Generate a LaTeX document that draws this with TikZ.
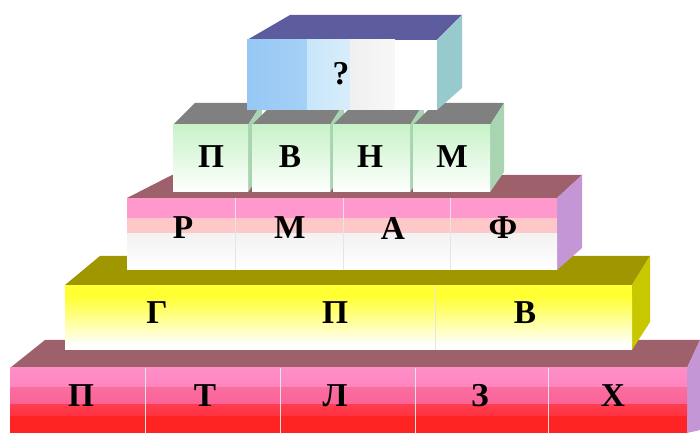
\documentclass[tikz,border=0pt]{standalone}
\usepackage{fontspec}
\setmainfont{Liberation Serif}

\definecolor{mauve}{RGB}{158,96,106}
\definecolor{lilac}{RGB}{196,150,214}
\definecolor{pinkA}{RGB}{255,142,200}
\definecolor{pinkB}{RGB}{250,100,150}
\definecolor{redA}{RGB}{255,60,80}
\definecolor{redB}{RGB}{255,36,36}
\definecolor{olive}{RGB}{160,150,0}
\definecolor{oliveside}{RGB}{200,200,0}
\definecolor{yellowA}{RGB}{255,255,50}
\definecolor{pinkC}{RGB}{255,152,204}
\definecolor{pinkD}{RGB}{255,200,200}
\definecolor{greyA}{RGB}{128,128,128}
\definecolor{greenA}{RGB}{200,242,200}
\definecolor{greenside}{RGB}{168,212,178}
\definecolor{slate}{RGB}{92,92,158}
\definecolor{teal}{RGB}{150,202,204}
\definecolor{blueA}{RGB}{150,200,245}
\definecolor{blueB}{RGB}{200,230,250}

\begin{document}
\begin{tikzpicture}[x=0.02cm,y=-0.02cm,
  letter/.style={font=\fontsize{19}{19}\selectfont\bfseries, inner sep=0pt},
  divider/.style={draw=black!10, line width=0.4pt}]
\useasboundingbox (0,0) rectangle (700,435);

% bottom tier
\fill[mauve] (10,368) -- (45,340) -- (700,340) -- (687,368) -- cycle;
\fill[lilac] (687,368) -- (700,340) -- (700,430) -- (687,433) -- cycle;
\shade[top color=pinkA, bottom color=pinkA!80!pinkB] (10,368) rectangle (687,388);
\shade[top color=pinkB!80!pinkA, bottom color=pinkB] (10,388) rectangle (687,405);
\shade[top color=redA, bottom color=redA!60!redB] (10,405) rectangle (687,416);
\fill[redB] (10,416) rectangle (687,433);
\foreach \x in {145,280,415,548}
  \draw[divider] (\x,368) -- (\x,433);

% yellow tier
\fill[olive] (65,285) -- (100,256) -- (650,256) -- (632,285) -- cycle;
\fill[oliveside] (632,285) -- (650,256) -- (650,322) -- (632,350) -- cycle;
\fill[yellowA] (65,285) rectangle (632,296);
\shade[top color=yellowA, bottom color=white] (65,296) rectangle (632,345);
\fill[white] (65,345) rectangle (632,350);
\foreach \x in {435}
  \draw[divider] (\x,285) -- (\x,350);

% pink tier
\fill[mauve] (127,198) -- (172,175) -- (582,175) -- (557,198) -- cycle;
\fill[lilac] (557,198) -- (582,175) -- (582,248) -- (557,270) -- cycle;
\fill[pinkC] (127,198) rectangle (557,218);
\fill[pinkD] (127,218) rectangle (557,234);
\shade[top color=black!5, bottom color=white] (127,234) rectangle (557,270);
\foreach \x in {235,343,450}
  \draw[divider] (\x,198) -- (\x,270);

% green cubes
\foreach \a/\b in {173/248,252/330,333/410,413/490} {
  \fill[greyA] (\a,125) -- (\a+22,103) -- (\b+14,103) -- (\b,125) -- cycle;
  \fill[greenside] (\b,125) -- (\b+14,103) -- (\b+14,172) -- (\b,192) -- cycle;
  \shade[top color=greenA, bottom color=white] (\a,125) rectangle (\b,192);
}

% top box
\fill[slate] (247,40) -- (290,15) -- (462,15) -- (437,40) -- cycle;
\fill[teal] (437,40) -- (462,15) -- (462,88) -- (437,110) -- cycle;
\shade[left color=blueA, right color=blueA!85!white] (247,40) rectangle (307,110);
\shade[left color=blueB, right color=blueB!70!white] (307,40) rectangle (350,110);
\shade[left color=black!6, right color=black!3] (350,40) rectangle (395,110);
\fill[white] (395,40) rectangle (437,110);

% letters
\node[letter] (top) at (341,74) {?};
\foreach \x/\t [count=\i] in {211/П,290/В,370/Н,452/М}
  \node[letter] (g\i) at (\x,157) {\t};
\foreach \x/\t [count=\i] in {183/Р,290/М,393/А,503/Ф}
  \node[letter] (p\i) at (\x,228) {\t};
\foreach \x/\t [count=\i] in {157/Г,335/П,525/В}
  \node[letter] (y\i) at (\x,313) {\t};
\foreach \x/\t [count=\i] in {81/П,205/Т,335/Л,480/З,613/Х}
  \node[letter] (r\i) at (\x,396) {\t};

\end{tikzpicture}
\end{document}
